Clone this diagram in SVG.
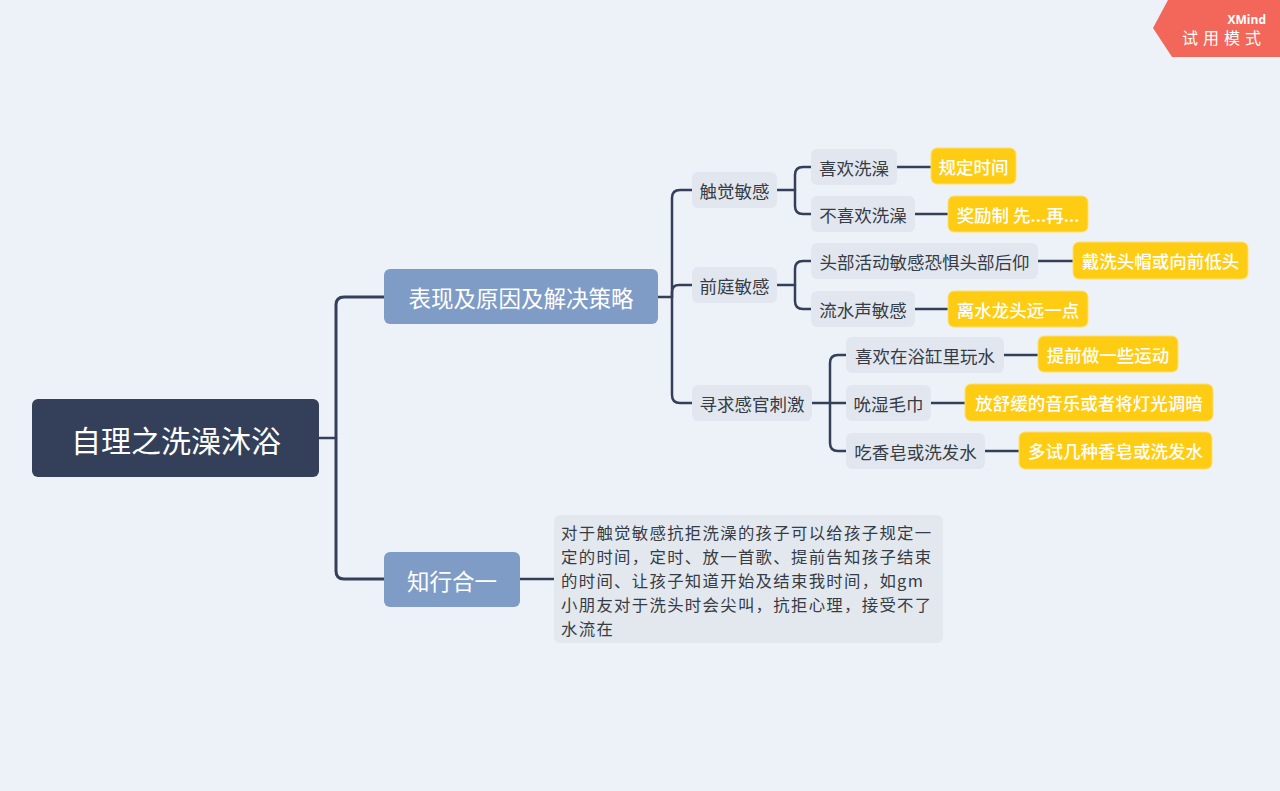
<svg xmlns="http://www.w3.org/2000/svg" width="1280" height="791" viewBox="0 0 1280 791">
<style>
text{font-family:"Noto Sans CJK SC","Noto Sans",sans-serif;dominant-baseline:central}
.root rect{fill:#344059}
.root text{fill:#fff;font-size:30px;text-anchor:middle}
.br rect{fill:#7f9cc6}
.br text{fill:#fff;font-size:22.5px;text-anchor:middle}
.sub rect{fill:#e2e7ef}
.sub text{fill:#363c45;font-size:17.5px;text-anchor:middle}
.leaf rect{fill:#ffcc14;stroke:#ffe070;stroke-width:1}
.leaf text{fill:#fff;font-size:17.5px;font-weight:500;text-anchor:middle}
.note rect{fill:#e3e8ef}
.note text{fill:#363c45;font-size:16.4px;letter-spacing:1.3px}
.c path{fill:none;stroke:#344059;stroke-width:2.5;stroke-linecap:round}
</style>
<rect width="1280" height="791" fill="#edf2f9"/>
<g class="c">
<path d="M319,438 H336" stroke-width="3"/>
<path d="M384,297 H344 Q336,297 336,305 V571 Q336,579 344,579 H384" style="stroke-width:3"/>
<path d="M658,297 H672"/>
<path d="M692,190 H680 Q672,190 672,198 V395 Q672,403 680,403 H692"/>
<path d="M672,297 V292 Q672,285 679,285 H692"/>
<path d="M777,190 H795"/>
<path d="M811,167 H803 Q795,167 795,175 V206 Q795,214 803,214 H811"/>
<path d="M777,285 H795"/>
<path d="M811,261 H803 Q795,261 795,269 V301 Q795,309 803,309 H811"/>
<path d="M812,403 H846"/>
<path d="M846,355 H838 Q830,355 830,363 V443 Q830,451 838,451 H846"/>
<path d="M897,167 H931"/>
<path d="M915,214 H948"/>
<path d="M1038,261 H1073"/>
<path d="M915,309 H948"/>
<path d="M1004,355 H1038"/>
<path d="M931,403 H965"/>
<path d="M985,451 H1019"/>
<path d="M520,579 H554"/>
</g>
<g id="root" class="root"><rect x="32" y="399" width="287" height="78" rx="6"/><text x="176" y="439">自理之洗澡沐浴</text></g>
<g id="b1" class="br"><rect x="384" y="269" width="274" height="55" rx="6"/><text x="521" y="297">表现及原因及解决策略</text></g>
<g id="b2" class="br"><rect x="384" y="552" width="136" height="55" rx="6"/><text x="452" y="580">知行合一</text></g>
<g id="s1" class="sub"><rect x="692" y="172" width="85" height="36" rx="6"/><text x="734.5" y="190">触觉敏感</text></g>
<g id="s2" class="sub"><rect x="692" y="267" width="85" height="36" rx="6"/><text x="734.5" y="285">前庭敏感</text></g>
<g id="s3" class="sub"><rect x="692" y="385" width="120" height="36" rx="6"/><text x="752" y="403">寻求感官刺激</text></g>
<g id="s11" class="sub"><rect x="811" y="149" width="86" height="36" rx="6"/><text x="854" y="167">喜欢洗澡</text></g>
<g id="s12" class="sub"><rect x="811" y="196" width="104" height="36" rx="6"/><text x="863" y="214">不喜欢洗澡</text></g>
<g id="s21" class="sub"><rect x="811" y="243" width="227" height="36" rx="6"/><text x="924.5" y="261">头部活动敏感恐惧头部后仰</text></g>
<g id="s22" class="sub"><rect x="811" y="291" width="104" height="36" rx="6"/><text x="863" y="309">流水声敏感</text></g>
<g id="s31" class="sub"><rect x="846" y="337" width="158" height="36" rx="6"/><text x="925" y="355">喜欢在浴缸里玩水</text></g>
<g id="s32" class="sub"><rect x="846" y="385" width="85" height="36" rx="6"/><text x="888.5" y="403">吮湿毛巾</text></g>
<g id="s33" class="sub"><rect x="846" y="433" width="139" height="36" rx="6"/><text x="915.5" y="451">吃香皂或洗发水</text></g>
<g id="l11" class="leaf"><rect x="931" y="148" width="85" height="36" rx="6"/><text x="973.5" y="166">规定时间</text></g>
<g id="l12" class="leaf"><rect x="948" y="196" width="140" height="36" rx="6"/><text x="1018" y="214">奖励制 先...再...</text></g>
<g id="l21" class="leaf"><rect x="1073" y="242" width="175" height="37" rx="6"/><text x="1160.5" y="260.5">戴洗头帽或向前低头</text></g>
<g id="l22" class="leaf"><rect x="948" y="291" width="140" height="36" rx="6"/><text x="1018" y="309">离水龙头远一点</text></g>
<g id="l31" class="leaf"><rect x="1038" y="336" width="140" height="36" rx="6"/><text x="1108" y="354">提前做一些运动</text></g>
<g id="l32" class="leaf"><rect x="965" y="384" width="248" height="37" rx="6"/><text x="1089" y="402.5">放舒缓的音乐或者将灯光调暗</text></g>
<g id="l33" class="leaf"><rect x="1019" y="432" width="193" height="37" rx="6"/><text x="1115.5" y="450.5">多试几种香皂或洗发水</text></g>
<g id="note" class="note"><rect x="554" y="515" width="389" height="128" rx="6"/>
<text x="561" y="532">对于触觉敏感抗拒洗澡的孩子可以给孩子规定一</text>
<text x="561" y="556">定的时间，定时、放一首歌、提前告知孩子结束</text>
<text x="561" y="580">的时间、让孩子知道开始及结束我时间，如gm</text>
<text x="561" y="604">小朋友对于洗头时会尖叫，抗拒心理，接受不了</text>
<text x="561" y="628">水流在</text>
</g>
<g id="badge"><polygon points="1168,0 1280,0 1280,57 1172,57 1153,28" fill="#f2675a"/>
<text x="1266" y="19" fill="#fff" font-size="12" font-weight="700" text-anchor="end" style="font-family:'Open Sans','Noto Sans',sans-serif">XMind</text>
<text x="1266" y="37" fill="#fff" font-size="16" text-anchor="end" letter-spacing="5">试用模式</text>
</g>
</svg>
